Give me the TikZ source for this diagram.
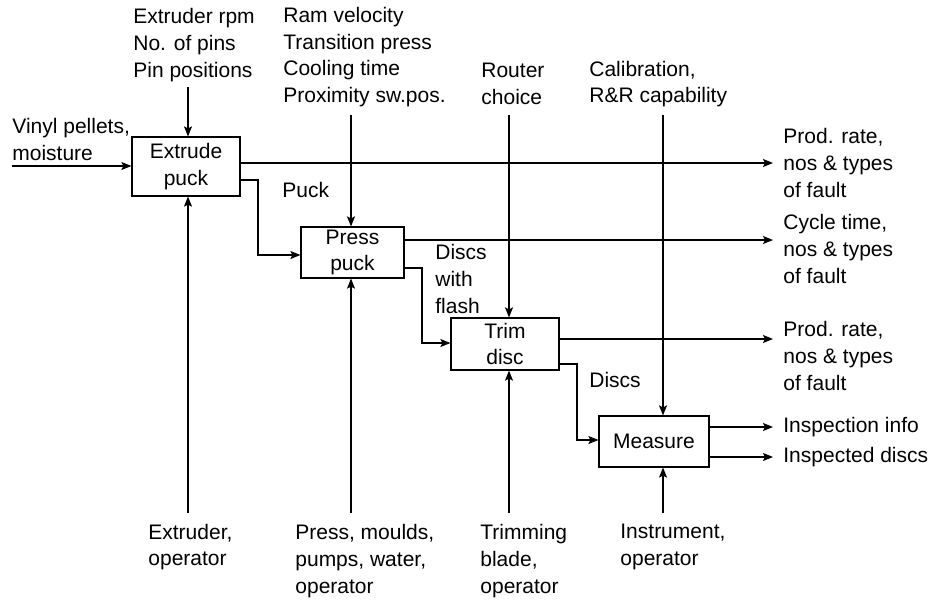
\documentclass[tikz,border=0pt]{standalone}
\usepackage{fontspec}
\setmainfont{Liberation Sans}
\usepackage{tikz}
\usetikzlibrary{
  arrows.meta,
  positioning,
  calc
}
\tikzset{
  procbox/.style={
    draw, line width=0.6pt, inner sep=0pt, align=center,
    font=\fontsize{10.5}{13.4}\selectfont
  },
  flow/.style={-{Stealth[length=5pt, width=4pt, inset=1pt]}, line width=0.6pt},
  plainline/.style={line width=0.6pt},
  lbl/.style={anchor=west, inner sep=0pt, align=left, font=\fontsize{10.5}{13.4}\selectfont}
}

\begin{document}
\begin{tikzpicture}[x=0.5pt, y=-0.5pt]
  \useasboundingbox (0,0) rectangle (938,600);

  % activity boxes
  \node[procbox, minimum width=54pt, minimum height=29.5pt] (extrude) at (186,166.5) {Extrude\\puck};
  \node[procbox, minimum width=51.5pt, minimum height=25.5pt] (press) at (352.5,252.5) {Press\\puck};
  \node[procbox, minimum width=54pt, minimum height=26pt] (trim) at (505,344) {Trim\\disc};
  \node[procbox, minimum width=55pt, minimum height=25.5pt] (measure) at (654,441.5) {Measure};

  % controls (top)
  \node[lbl] (ctlExtrude) at (133,45) {Extruder rpm\\No. of pins\\Pin positions};
  \node[lbl] (ctlPress) at (283,57) {Ram velocity\\Transition press\\Cooling time\\Proximity sw.pos.};
  \node[lbl] (ctlTrim) at (481,84) {Router\\choice};
  \node[lbl] (ctlMeasure) at (589,84) {Calibration,\\R\&R capability};
  \coordinate (cExtrude) at (188,87);
  \coordinate (cPress) at (351,115);
  \coordinate (cTrim) at (509,115);
  \coordinate (cMeasure) at (663,115);
  \draw[flow] (cExtrude) -- (cExtrude |- extrude.north);
  \draw[flow] (cPress) -- (cPress |- press.north);
  \draw[flow] (cTrim) -- (cTrim |- trim.north);
  \draw[flow] (cMeasure) -- (cMeasure |- measure.north);

  % mechanisms (bottom)
  \node[lbl] (mechExtrude) at (148,547) {Extruder,\\operator};
  \node[lbl] (mechPress) at (295,561) {Press, moulds,\\pumps, water,\\operator};
  \node[lbl] (mechTrim) at (480,561) {Trimming\\blade,\\operator};
  \node[lbl] (mechMeasure) at (620,547) {Instrument,\\operator};
  \coordinate (mExtrude) at (188,513);
  \coordinate (mPress) at (351,513);
  \coordinate (mTrim) at (509,513);
  \coordinate (mMeasure) at (663,513);
  \draw[flow] (mExtrude) -- (mExtrude |- extrude.south);
  \draw[flow] (mPress) -- (mPress |- press.south);
  \draw[flow] (mTrim) -- (mTrim |- trim.south);
  \draw[flow] (mMeasure) -- (mMeasure |- measure.south);

  % input
  \node[lbl] (inVinyl) at (12,139.5) {Vinyl pellets,\\moisture};
  \coordinate (vin) at (12,166);
  \draw[flow] (vin) -- (vin -| extrude.west);

  % outputs (right)
  \node[lbl] (outExtrude) at (783,163) {Prod. rate,\\nos \& types\\of fault};
  \node[lbl] (outPress) at (783,249) {Cycle time,\\nos \& types\\of fault};
  \node[lbl] (outTrim) at (783,356) {Prod. rate,\\nos \& types\\of fault};
  \node[lbl] (outInfo) at (783,427) {Inspection info};
  \node[lbl] (outDiscs) at (783,457) {Inspected discs};
  \coordinate (oExtrude) at (773,163);
  \coordinate (oPress) at (773,240);
  \coordinate (oTrim) at (773,339);
  \coordinate (oInfo) at (773,427);
  \coordinate (oDiscs) at (773,457);
  \draw[flow] (oExtrude -| extrude.east) -- (oExtrude);
  \draw[flow] (oPress -| press.east) -- (oPress);
  \draw[flow] (oTrim -| trim.east) -- (oTrim);
  \draw[flow] (oInfo -| measure.east) -- (oInfo);
  \draw[flow] (oDiscs -| measure.east) -- (oDiscs);

  % product flow between activities
  \node[lbl] (lPuck) at (282,190) {Puck};
  \node[lbl] (lFlash) at (435,279) {Discs\\with\\flash};
  \node[lbl] (lDiscs) at (589,380) {Discs};
  \draw[flow] (extrude.east |- 0,180) -| (258,255) -- (258,255 -| press.west);
  \draw[flow] (press.east |- 0,268) -| (422,343) -- (422,343 -| trim.west);
  \draw[flow] (trim.east |- 0,364) -| (577,440) -- (577,440 -| measure.west);
\end{tikzpicture}
\end{document}
